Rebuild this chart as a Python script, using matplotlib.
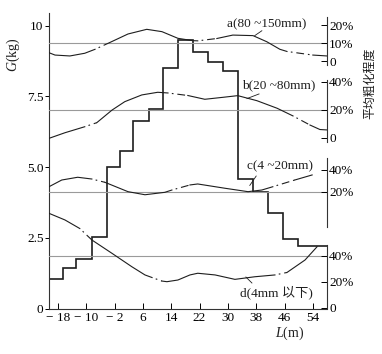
import matplotlib
matplotlib.use('Agg')
import matplotlib.pyplot as plt
import numpy as np

plt.rcParams['font.family'] = ['Liberation Serif', 'Noto Sans CJK SC']
plt.rcParams['mathtext.fontset'] = 'custom'
plt.rcParams['mathtext.rm'] = 'Liberation Serif'
plt.rcParams['mathtext.it'] = 'Liberation Serif:italic'

# ---------------- data ----------------
x_ticks = [-18, -10, -2, 6, 14, 22, 30, 38, 46, 54]
x_ticklabels = ['− 18', '− 10', '− 2', '6', '14', '22', '30', '38', '46', '54']
g_ticks = [0, 2.5, 5, 7.5, 10]
g_ticklabels = ['0', '2.5', '5.0', '7.5', '10']

step_edges = [-20.5, -16.6, -12.9, -8.4, -4.2, -0.5, 3.2, 7.7, 11.7, 15.9,
              20.1, 24.4, 28.6, 32.8, 37.1, 41.3, 45.6, 49.8, 58.0]
step_G = [1.04, 1.44, 1.76, 2.52, 5.0, 5.57, 6.63, 7.07, 8.5, 9.51,
          9.06, 8.72, 8.4, 4.57, 4.13, 3.37, 2.45, 2.2]

a_L = [-20.5, -18.8, -14.6, -10.4, -7.5, -3.3, 1.8, 7.1, 11.4, 15.9, 20.1,
       21.5, 26.9, 31.4, 37.1, 41.0, 44.7, 46.7, 54.0, 58.0]
a_pct = [4.6, 3.3, 2.8, 4.3, 6.5, 10.3, 15.0, 17.6, 16.3, 12.6, 11.3,
         11.2, 12.5, 14.4, 14.1, 10.7, 6.5, 5.3, 3.3, 2.8]

b_L = [-20.5, -16.0, -10.4, -7.0, -2.7, 0.9, 5.7, 10.2, 13.1, 18.7, 23.5,
       28.6, 32.8, 38.2, 43.9, 48.4, 53.2, 56.0, 58.0]
b_pct = [-0.6, 3.4, 7.7, 10.6, 19.6, 25.6, 30.4, 32.3, 31.8, 30.0, 27.3,
         28.7, 29.9, 26.3, 20.9, 15.4, 8.9, 5.7, 5.4]

c_L = [-20.5, -16.9, -12.4, -8.4, -4.7, 1.8, 6.6, 12.2, 14.2, 19.3, 21.5,
       29.2, 35.7, 39.6, 42.7, 48.9, 53.8]
c_pct = [24.8, 30.9, 33.4, 31.8, 28.8, 20.3, 17.5, 19.7, 21.8, 26.4, 27.3,
         23.4, 20.3, 21.8, 24.8, 30.9, 35.5]

d_L = [-20.5, -16.0, -11.8, -8.4, -2.7, 2.9, 6.6, 8.6, 11.4, 12.8, 15.9,
       19.3, 21.5, 26.4, 32.0, 37.6, 43.3, 46.7, 51.8, 55.2]
d_pct = [72.6, 67.5, 60.9, 52.1, 41.8, 31.5, 25.2, 23.2, 20.5, 20.0, 21.3,
         25.2, 26.5, 25.2, 21.8, 23.8, 25.2, 27.1, 36.7, 46.9]

ref_a, ref_b, ref_c, ref_d = 10, 20, 20, 40
labels = ['a(80 ~150mm)', 'b(20 ~80mm)', 'c(4 ~20mm)', 'd(4mm 以下)']

# ---------------- style ----------------
ink = '#1e1e1e'
grey = '#9a9a9a'
W, H = 382, 354
fig = plt.figure(figsize=(W / 100, H / 100), dpi=100)
L0, R0, T0, B0 = 49, 327, 13, 308.5
ax = fig.add_axes([L0 / W, 1 - B0 / H, (R0 - L0) / W, (B0 - T0) / H])
ax.set_xlim(-20.5, 58.0)
ax.set_ylim(0, 10.45)
ax.patch.set_visible(False)
for s in ['top', 'right']:
    ax.spines[s].set_visible(False)
for s in ['left', 'bottom']:
    ax.spines[s].set_color('#333333')
    ax.spines[s].set_linewidth(0.8)
ax.set_xticks(x_ticks)
ax.set_xticklabels(x_ticklabels)
ax.set_yticks(g_ticks)
ax.set_yticklabels(g_ticklabels)
ax.tick_params(axis='x', direction='in', length=4, width=0.7, pad=2.5, labelsize=9.5)
ax.tick_params(axis='y', direction='out', length=3, width=0.7, pad=1, labelsize=9.5)

ax.stairs(step_G, step_edges, baseline=None, color=ink, lw=1.2)


def make_panel(ylim, bounds, ticks, ticklabels):
    p = ax.twinx()
    p.set_ylim(*ylim)
    for s in ['left', 'top', 'bottom']:
        p.spines[s].set_visible(False)
    p.spines['right'].set_bounds(*bounds)
    p.spines['right'].set_color('#333333')
    p.spines['right'].set_linewidth(0.8)
    p.set_yticks(ticks)
    p.set_yticklabels(ticklabels)
    p.tick_params(axis='y', direction='in', length=4, width=0.7, pad=1.5, labelsize=9.5)
    return p


def draw_curve(p, L, v, dash_idx):
    L = np.asarray(L)
    v = np.asarray(v)
    start = 0
    for i in dash_idx:
        p.plot(L[start:i + 1], v[start:i + 1], color=ink, lw=0.8)
        p.plot(L[i:i + 2], v[i:i + 2], color=ink, lw=0.8, linestyle=(7, (7, 3.5, 1.5, 3.5)))
        start = i + 1
    p.plot(L[start:], v[start:], color=ink, lw=0.8)


pa = make_panel(((61 - B0) / 1.8, (61 - T0) / 1.8), (-2.2, 24.4), [0, 10, 20], ['0', '10%', '20%'])
pb = make_panel(((137.5 - B0) / 1.4, (137.5 - T0) / 1.4), (-3.2, 41.1), [0, 20, 40], ['0', '20%', '40%'])
pc = make_panel(((214 - B0) / 1.1, (214 - T0) / 1.1), (-11.8, 50.9), [20, 40], ['20%', '40%'])
pd = make_panel(((307.7 - B0) / 1.3, (307.7 - T0) / 1.3), (-0.6, 48.2), [0, 20, 40], ['0', '20%', '40%'])

for p, ref in [(pa, ref_a), (pb, ref_b), (pc, ref_c), (pd, ref_d)]:
    p.axhline(ref, color=grey, lw=0.8, zorder=1)

draw_curve(pa, a_L, a_pct, [4, 11, 17])
draw_curve(pb, b_L, b_pct, [2, 8, 15])
draw_curve(pc, c_L, c_pct, [3, 8, 14])
draw_curve(pd, d_L, d_pct, [2, 7, 16])

lab_kw = dict(ha='center', va='center', fontsize=9.5, color=ink)
pa.text(41.0, 20.3, labels[0], **lab_kw)
pb.text(44.4, 37.5, labels[1], **lab_kw)
pc.text(44.7, 43.2, labels[2], **lab_kw)
pd.text(43.6, 12.1, labels[3], **lab_kw)
lk = dict(color=ink, lw=0.6)
pa.plot([39.6, 37.6], [16.8, 14.1], **lk)
pb.plot([38.8, 35.4], [31.1, 27.8], **lk)
pc.plot([38.0, 36.2], [34.5, 26.0], **lk)
pd.plot([35.1, 36.8], [23.6, 19.0], **lk)

fig.text(13 / W, 1 - 54.5 / H, r'$G$(kg)', rotation=90, ha='center', va='center', fontsize=10, color=ink)
fig.text(370 / W, 1 - 83.5 / H, '平均粗化程度', rotation=90, ha='center', va='center',
         fontsize=8.6, color=ink, family=['Noto Sans CJK SC'])
fig.text(290 / W, 1 - 333 / H, r'$L$(m)', ha='center', va='center', fontsize=10, color=ink)

fig.savefig('out.png', dpi=100)
